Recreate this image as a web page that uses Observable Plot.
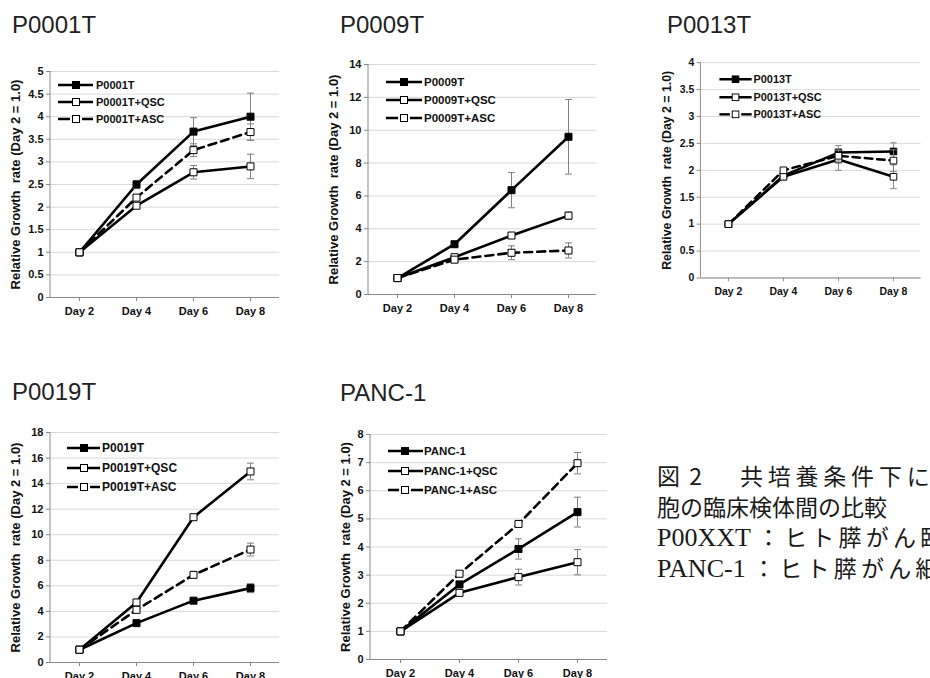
<!DOCTYPE html>
<html><head><meta charset="utf-8">
<script src="https://cdn.jsdelivr.net/npm/d3@7"></script>
<script src="https://cdn.jsdelivr.net/npm/@observablehq/plot@0.6"></script>
<style>
html,body{margin:0;padding:0;background:#fff;}
#page{position:relative;width:930px;height:678px;overflow:hidden;background:#fff;font-family:"Liberation Sans",Arial,sans-serif;}
.title{position:absolute;font-size:24px;line-height:24px;color:#222;white-space:nowrap;}
.panel{position:absolute;}
.cap{position:absolute;left:657px;white-space:nowrap;font-size:23px;line-height:30px;height:30px;color:#1a1a1a;font-family:"Noto Sans CJK JP","Noto Sans CJK SC",sans-serif;}
.lat{font-family:"Liberation Serif","DejaVu Serif",serif;font-size:26px;}
</style></head><body><div id="page"></div>
<script>
// ---------- data ----------
const days = ["Day 2", "Day 4", "Day 6", "Day 8"];
const yTitle = "Relative Growth  rate (Day 2 = 1.0)";

// P0001T
const p0001Names = ["P0001T", "P0001T+QSC", "P0001T+ASC"];
const p0001Mean = [1, 2.5, 3.67, 4.0];
const p0001Err = [0, 0.09, 0.31, 0.52];
const p0001QscMean = [1, 2.03, 2.77, 2.9];
const p0001QscErr = [0, 0.06, 0.15, 0.27];
const p0001AscMean = [1, 2.21, 3.26, 3.66];
const p0001AscErr = [0, 0.05, 0.14, 0.18];

// P0009T
const p0009Names = ["P0009T", "P0009T+QSC", "P0009T+ASC"];
const p0009Mean = [1, 3.06, 6.35, 9.6];
const p0009Err = [0, 0.15, 1.07, 2.27];
const p0009QscMean = [1, 2.27, 3.59, 4.8];
const p0009QscErr = [0, 0.1, 0.15, 0.22];
const p0009AscMean = [1, 2.12, 2.54, 2.68];
const p0009AscErr = [0, 0.12, 0.42, 0.46];

// P0013T
const p0013Names = ["P0013T", "P0013T+QSC", "P0013T+ASC"];
const p0013Mean = [1, 1.9, 2.33, 2.35];
const p0013Err = [0, 0.06, 0.13, 0.16];
const p0013QscMean = [1, 1.88, 2.2, 1.88];
const p0013QscErr = [0, 0.06, 0.2, 0.22];
const p0013AscMean = [1, 2.0, 2.27, 2.18];
const p0013AscErr = [0, 0.05, 0.1, 0.2];

// P0019T
const p0019Names = ["P0019T", "P0019T+QSC", "P0019T+ASC"];
const p0019Mean = [1, 3.08, 4.84, 5.82];
const p0019Err = [0, 0.1, 0.15, 0.35];
const p0019QscMean = [1, 4.7, 11.37, 14.95];
const p0019QscErr = [0, 0.2, 0.15, 0.65];
const p0019AscMean = [1, 4.12, 6.86, 8.84];
const p0019AscErr = [0, 0.2, 0.15, 0.5];

// PANC-1
const pancNames = ["PANC-1", "PANC-1+QSC", "PANC-1+ASC"];
const pancMean = [1, 2.67, 3.93, 5.24];
const pancErr = [0, 0.1, 0.36, 0.53];
const pancQscMean = [1, 2.37, 2.93, 3.46];
const pancQscErr = [0, 0.1, 0.28, 0.45];
const pancAscMean = [1, 3.05, 4.82, 6.98];
const pancAscErr = [0, 0.08, 0.1, 0.38];

// caption (latin part, head, CJK part)
const captionLines = [
  ["", "図 2", "共培養条件下に"],
  ["", "", "胞の臨床検体間の比較"],
  ["P00XXT ", "", "：ヒト膵がん臨"],
  ["PANC-1 ", "", "：ヒト膵がん細"]
];

// ---------- layout ----------
const panels = [
  {title: "P0001T", names: p0001Names, means: [p0001Mean, p0001QscMean, p0001AscMean], errs: [p0001Err, p0001QscErr, p0001AscErr],
   ymax: 5, ystep: 0.5, L: 50, R: 279, T: 71, B: 297, tx: 12, tb: 33, yto: 35,
   leg: {x1: 8, x2: 43, xm: 26, xt: 46, rows: [14, 31, 48], fs: 11}},
  {title: "P0009T", names: p0009Names, means: [p0009Mean, p0009QscMean, p0009AscMean], errs: [p0009Err, p0009QscErr, p0009AscErr],
   ymax: 14, ystep: 2, L: 368, R: 596, T: 64, B: 294, tx: 340, tb: 33, yto: 35,
   leg: {x1: 18, x2: 54, xm: 36, xt: 56, rows: [18, 36, 54], fs: 11.5}},
  {title: "P0013T", names: p0013Names, means: [p0013Mean, p0013QscMean, p0013AscMean], errs: [p0013Err, p0013QscErr, p0013AscErr],
   ymax: 4, ystep: 0.5, L: 703, R: 935, T: 63, B: 290, tx: 667, tb: 33, yto: 36,
   leg: {x1: 20, x2: 54, xm: 37, xt: 56, rows: [18, 37, 55], fs: 11.5}},
  {title: "P0019T", names: p0019Names, means: [p0019Mean, p0019QscMean, p0019AscMean], errs: [p0019Err, p0019QscErr, p0019AscErr],
   ymax: 18, ystep: 2, L: 50, R: 279, T: 432, B: 662, tx: 12, tb: 400, yto: 35,
   leg: {x1: 17, x2: 50, xm: 34, xt: 52, rows: [16, 36, 55], fs: 12}},
  {title: "PANC-1", names: pancNames, means: [pancMean, pancQscMean, pancAscMean], errs: [pancErr, pancQscErr, pancAscErr],
   ymax: 8, ystep: 1, L: 370, R: 607, T: 434, B: 659, tx: 340, tb: 401, yto: 25,
   leg: {x1: 18, x2: 53, xm: 35, xt: 54, rows: [17, 37, 56], fs: 11.5}}
];
const seriesStyle = [
  {fill: "#000", dash: null},
  {fill: "#fff", dash: null},
  {fill: "#fff", dash: "8,5"}
];

const capSymbol = {
  draw(context, size) {
    const w = Math.sqrt(size / Math.PI);
    context.moveTo(-w, 0);
    context.lineTo(w, 0);
  }
};

function legendMark(names, leg) {
  return (index, scales, values, dims) => {
    const g = d3.create("svg:g").attr("transform", `translate(${dims.marginLeft},${dims.marginTop})`);
    names.forEach((name, i) => {
      const y = leg.rows[i], st = seriesStyle[i];
      const segs = st.dash ? [[leg.x1, leg.xm - 6], [leg.xm + 6, leg.x2]] : [[leg.x1, leg.x2]];
      segs.forEach(([a, b]) => g.append("line").attr("x1", a).attr("x2", b).attr("y1", y).attr("y2", y)
        .attr("stroke", "#000").attr("stroke-width", 2.5));
      g.append("rect").attr("x", leg.xm - 3.5).attr("y", y - 3.5).attr("width", 7).attr("height", 7)
        .attr("fill", st.fill).attr("stroke", "#000").attr("stroke-width", 1);
      g.append("text").attr("x", leg.xt).attr("y", y).attr("dy", "0.35em").attr("text-anchor", "start")
        .attr("font-size", leg.fs).attr("font-weight", "bold").attr("fill", "#111").text(name);
    });
    return g.node();
  };
}

function leftAxisLine(index, scales, values, dims) {
  return d3.create("svg:line")
    .attr("x1", dims.marginLeft).attr("x2", dims.marginLeft)
    .attr("y1", dims.marginTop).attr("y2", dims.height - dims.marginBottom)
    .attr("stroke", "#888").attr("stroke-width", 1).node();
}

const page = document.getElementById("page");
const mL = 50, mR = 10, mT = 16, mB = 26;

panels.forEach(p => {
  const t = document.createElement("div");
  t.className = "title";
  t.textContent = p.title;
  t.style.left = p.tx + "px";
  t.style.top = (p.tb - 20.3) + "px";
  page.appendChild(t);

  const rows = [];
  p.names.forEach((name, s) => {
    days.forEach((d, i) => rows.push({s, name, day: d, v: p.means[s][i], e: p.errs[s][i]}));
  });
  const errRows = rows.filter(r => r.e > 0);
  const yTicks = d3.range(0, p.ymax + p.ystep / 2, p.ystep);

  const marks = [
    Plot.gridY(yTicks, {stroke: "#d9d9d9", strokeOpacity: 1, strokeWidth: 1}),
    Plot.ruleY([0], {stroke: "#888", strokeWidth: 1}),
    leftAxisLine,
    Plot.axisY(yTicks, {tickSize: 4, tickPadding: 3, fontSize: 11, fontWeight: "bold", stroke: "#888", fill: "#111",
      tickFormat: d => String(+d.toFixed(1)), label: null}),
    Plot.axisX({tickSize: 4, tickPadding: 6, fontSize: 11, fontWeight: "bold", stroke: "#888", fill: "#111", label: null}),
    Plot.text([yTitle], {frameAnchor: "left", textAnchor: "middle", lineAnchor: "middle", rotate: -90, dx: -p.yto,
      fontSize: 13, fontWeight: "bold", fill: "#111"})
  ];
  [0, 1, 2].forEach(s => {
    const data = rows.filter(r => r.s === s);
    const ed = errRows.filter(r => r.s === s);
    marks.push(
      Plot.line(data, {x: "day", y: "v", stroke: "#000", strokeWidth: 2.6, strokeDasharray: seriesStyle[s].dash}),
      Plot.ruleX(ed, {x: "day", y1: r => r.v - r.e, y2: r => r.v + r.e, stroke: "#808080", strokeWidth: 1}),
      Plot.dot(ed, {x: "day", y: r => r.v + r.e, symbol: capSymbol, r: 3.5, stroke: "#808080", fill: "none", strokeWidth: 1}),
      Plot.dot(ed, {x: "day", y: r => r.v - r.e, symbol: capSymbol, r: 3.5, stroke: "#808080", fill: "none", strokeWidth: 1}),
      Plot.dot(data, {x: "day", y: "v", symbol: "square", r: 3.95, fill: seriesStyle[s].fill, stroke: "#000", strokeWidth: 1})
    );
  });
  marks.push(legendMark(p.names, p.leg));

  const width = (p.R - p.L) + mL + mR;
  const height = (p.B - p.T) + mT + mB;
  const svg = Plot.plot({
    width, height,
    marginLeft: mL, marginRight: mR, marginTop: mT, marginBottom: mB,
    x: {type: "point", domain: days, padding: 0.5, label: null},
    y: {domain: [0, p.ymax], label: null},
    style: {fontFamily: "'Liberation Sans', Arial, sans-serif", background: "transparent", overflow: "visible"},
    marks
  });
  const wrap = document.createElement("div");
  wrap.className = "panel";
  wrap.style.left = (p.L - mL) + "px";
  wrap.style.top = (p.T - mT) + "px";
  wrap.appendChild(svg);
  page.appendChild(wrap);
});

const capTops = [460, 491, 521, 552];
const capSpacing = ["4.8px", "0px", "4.2px", "4.2px"];
captionLines.forEach(([lat, head, cjk], i) => {
  const div = document.createElement("div");
  div.className = "cap";
  div.style.top = capTops[i] + "px";
  if (lat) {
    const a = document.createElement("span");
    a.className = "lat";
    a.textContent = lat;
    div.appendChild(a);
  }
  if (head) {
    const h = document.createElement("span");
    h.textContent = head;
    h.style.wordSpacing = "4px";
    h.style.marginRight = "38px";
    div.appendChild(h);
  }
  const c = document.createElement("span");
  c.textContent = cjk;
  c.style.letterSpacing = capSpacing[i];
  div.appendChild(c);
  page.appendChild(div);
});
</script>
</body></html>
